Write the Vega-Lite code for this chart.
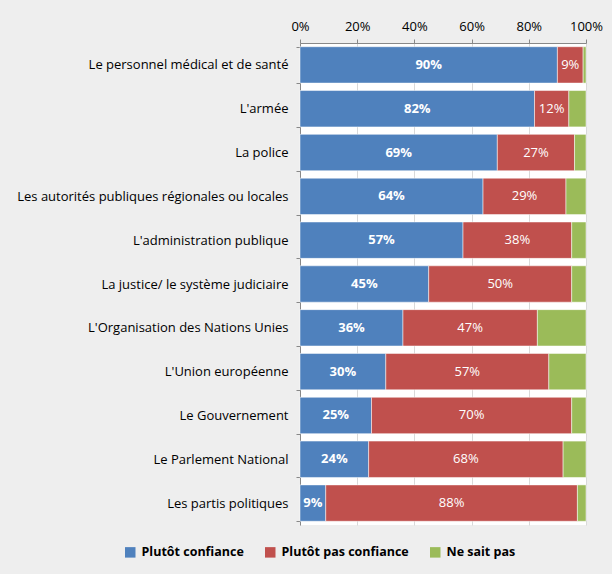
{
  "$schema": "https://vega.github.io/schema/vega-lite/v6.json",
  "width": 286,
  "height": 482,
  "autosize": {"type": "none"},
  "padding": {"left": 300, "top": 43, "right": 26, "bottom": 49},
  "background": "#eeeeee",
  "config": {
    "font": "Open Sans",
    "view": {"stroke": null, "fill": "#ffffff"}
  },
  "data": {
    "values": [
      {"cat": "Le personnel médical et de santé", "resp": "Plutôt confiance", "v": 90},
      {"cat": "Le personnel médical et de santé", "resp": "Plutôt pas confiance", "v": 9},
      {"cat": "Le personnel médical et de santé", "resp": "Ne sait pas", "v": 1},
      {"cat": "L'armée", "resp": "Plutôt confiance", "v": 82},
      {"cat": "L'armée", "resp": "Plutôt pas confiance", "v": 12},
      {"cat": "L'armée", "resp": "Ne sait pas", "v": 6},
      {"cat": "La police", "resp": "Plutôt confiance", "v": 69},
      {"cat": "La police", "resp": "Plutôt pas confiance", "v": 27},
      {"cat": "La police", "resp": "Ne sait pas", "v": 4},
      {"cat": "Les autorités publiques régionales ou locales", "resp": "Plutôt confiance", "v": 64},
      {"cat": "Les autorités publiques régionales ou locales", "resp": "Plutôt pas confiance", "v": 29},
      {"cat": "Les autorités publiques régionales ou locales", "resp": "Ne sait pas", "v": 7},
      {"cat": "L'administration publique", "resp": "Plutôt confiance", "v": 57},
      {"cat": "L'administration publique", "resp": "Plutôt pas confiance", "v": 38},
      {"cat": "L'administration publique", "resp": "Ne sait pas", "v": 5},
      {"cat": "La justice/ le système judiciaire", "resp": "Plutôt confiance", "v": 45},
      {"cat": "La justice/ le système judiciaire", "resp": "Plutôt pas confiance", "v": 50},
      {"cat": "La justice/ le système judiciaire", "resp": "Ne sait pas", "v": 5},
      {"cat": "L'Organisation des Nations Unies", "resp": "Plutôt confiance", "v": 36},
      {"cat": "L'Organisation des Nations Unies", "resp": "Plutôt pas confiance", "v": 47},
      {"cat": "L'Organisation des Nations Unies", "resp": "Ne sait pas", "v": 17},
      {"cat": "L'Union européenne", "resp": "Plutôt confiance", "v": 30},
      {"cat": "L'Union européenne", "resp": "Plutôt pas confiance", "v": 57},
      {"cat": "L'Union européenne", "resp": "Ne sait pas", "v": 13},
      {"cat": "Le Gouvernement", "resp": "Plutôt confiance", "v": 25},
      {"cat": "Le Gouvernement", "resp": "Plutôt pas confiance", "v": 70},
      {"cat": "Le Gouvernement", "resp": "Ne sait pas", "v": 5},
      {"cat": "Le Parlement National", "resp": "Plutôt confiance", "v": 24},
      {"cat": "Le Parlement National", "resp": "Plutôt pas confiance", "v": 68},
      {"cat": "Le Parlement National", "resp": "Ne sait pas", "v": 8},
      {"cat": "Les partis politiques", "resp": "Plutôt confiance", "v": 9},
      {"cat": "Les partis politiques", "resp": "Plutôt pas confiance", "v": 88},
      {"cat": "Les partis politiques", "resp": "Ne sait pas", "v": 3}
    ]
  },
  "transform": [
    {"calculate": "indexof(['Plutôt confiance','Plutôt pas confiance','Ne sait pas'], datum.resp)", "as": "k"},
    {"stack": "v", "groupby": ["cat"], "sort": [{"field": "k", "order": "ascending"}], "as": ["v0", "v1"]},
    {"calculate": "(datum.v0 + datum.v1) / 2", "as": "mid"},
    {"calculate": "datum.v + '%'", "as": "lbl"}
  ],
  "encoding": {
    "y": {
      "field": "cat",
      "type": "nominal",
      "sort": null,
      "scale": {"paddingInner": 0.17, "paddingOuter": 0.085},
      "axis": {
        "title": null,
        "domainColor": "#888888",
        "tickColor": "#888888",
        "tickBand": "extent",
        "tickSize": 4,
        "labelPadding": 8,
        "labelFontSize": 13,
        "labelColor": "#000000",
        "labelLimit": 300
      }
    }
  },
  "layer": [
    {
      "mark": {"type": "bar", "stroke": "#ffffff", "strokeWidth": 0.5},
      "encoding": {
        "x": {
          "field": "v0",
          "type": "quantitative",
          "scale": {"domain": [0, 100]},
          "axis": {
            "orient": "top",
            "title": null,
            "values": [0, 20, 40, 60, 80, 100],
            "labelExpr": "datum.value + '%'",
            "labelFontSize": 13,
            "labelColor": "#000000",
            "labelPadding": 6,
            "domainColor": "#888888",
            "tickColor": "#888888",
            "tickSize": 4,
            "gridColor": "#d9d9d9",
            "labelFlush": false
          }
        },
        "x2": {"field": "v1"},
        "color": {
          "field": "resp",
          "type": "nominal",
          "scale": {
            "domain": ["Plutôt confiance", "Plutôt pas confiance", "Ne sait pas"],
            "range": ["#4f81bd", "#c0504d", "#9bbb59"]
          },
          "legend": {
            "orient": "none",
            "legendX": -176,
            "legendY": 503,
            "direction": "horizontal",
            "title": null,
            "symbolType": "square",
            "symbolSize": 110,
            "symbolStrokeWidth": 0,
            "labelFontSize": 12.5,
            "labelFontWeight": "bold",
            "labelColor": "#000000",
            "columnPadding": 20,
            "labelOffset": 5
          }
        }
      }
    },
    {
      "transform": [{"filter": "datum.resp == 'Plutôt confiance'"}],
      "mark": {"type": "text", "color": "#ffffff", "fontWeight": "bold", "fontSize": 13},
      "encoding": {
        "x": {"field": "mid", "type": "quantitative"},
        "text": {"field": "lbl", "type": "nominal"}
      }
    },
    {
      "transform": [{"filter": "datum.resp == 'Plutôt pas confiance'"}],
      "mark": {"type": "text", "color": "#ffffff", "fontSize": 13},
      "encoding": {
        "x": {"field": "mid", "type": "quantitative"},
        "text": {"field": "lbl", "type": "nominal"}
      }
    }
  ]
}
